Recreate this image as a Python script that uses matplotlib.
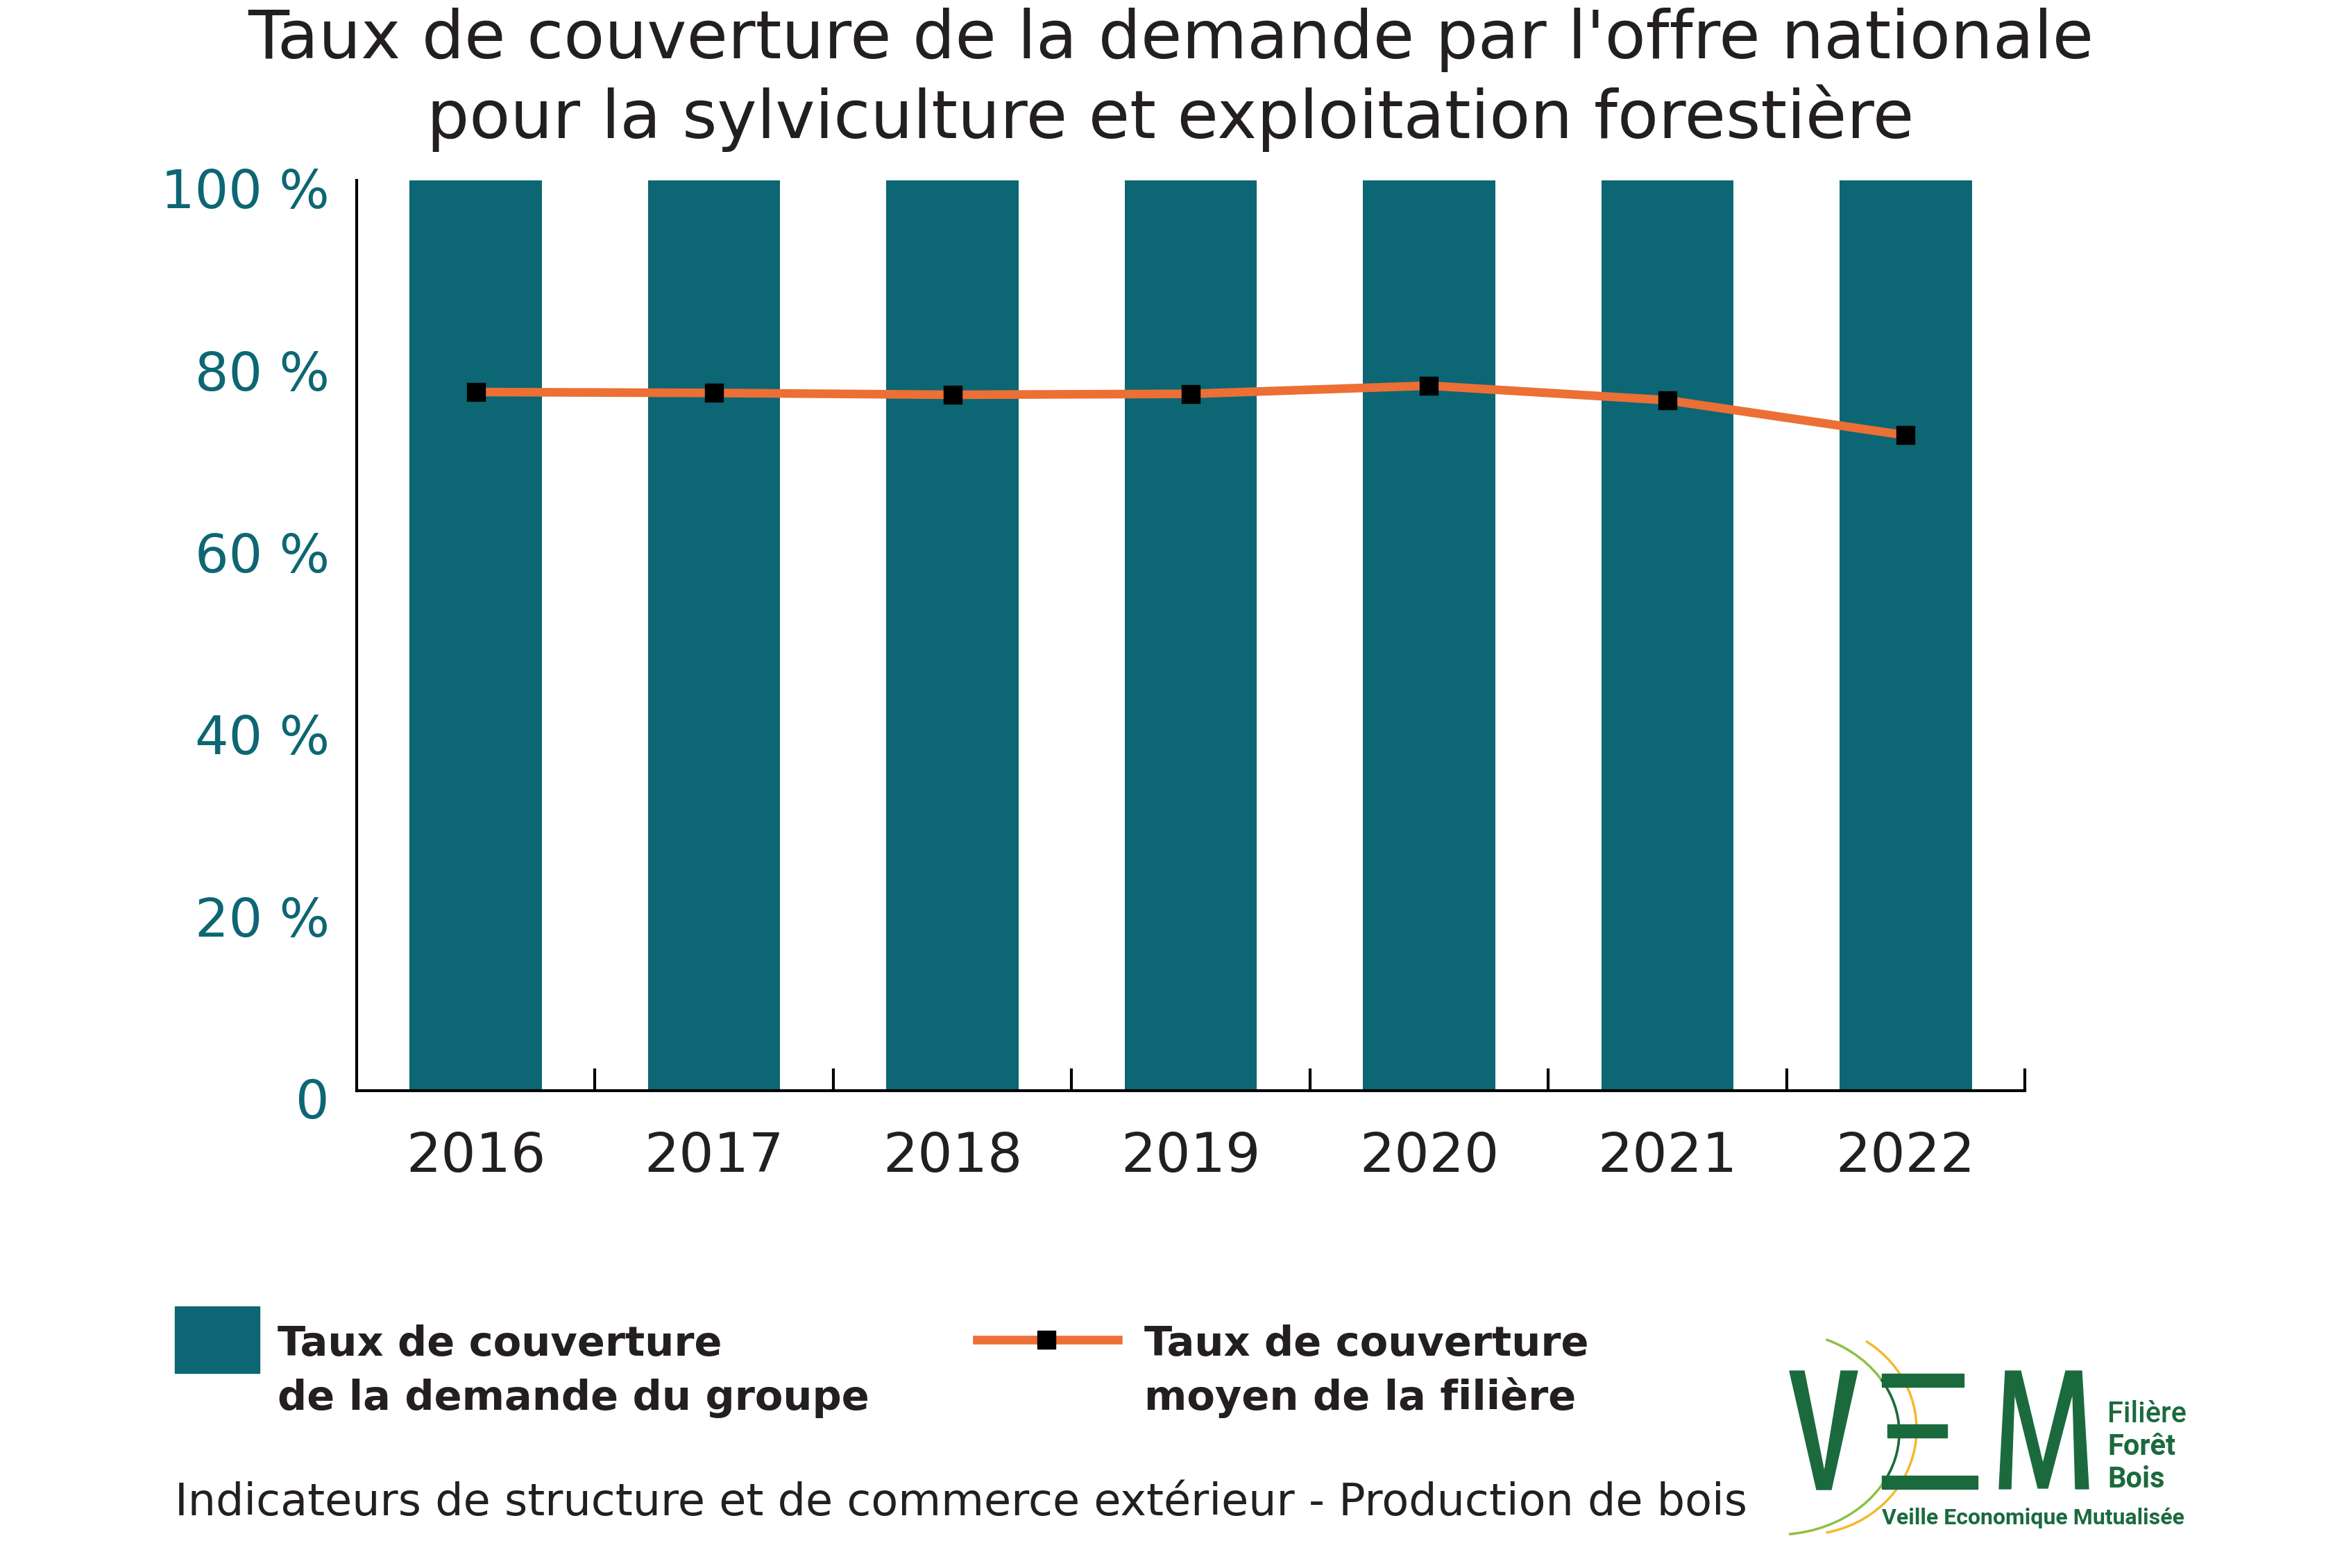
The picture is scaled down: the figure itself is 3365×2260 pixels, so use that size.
import numpy as np
import matplotlib
matplotlib.use('Agg')
from matplotlib import pyplot as plt
from matplotlib import transforms
from matplotlib.patches import Rectangle, Polygon, Arc
from matplotlib.lines import Line2D

years = ['2016', '2017', '2018', '2019', '2020', '2021', '2022']
groupe = [100, 100, 100, 100, 100, 100, 100]
filiere = [76.75, 76.65, 76.45, 76.55, 77.45, 75.85, 72.0]
yticks = [0, 20, 40, 60, 80, 100]
ylabels = ['0', '20 %', '40 %', '60 %', '80 %', '100 %']

teal = '#0D6673'
orange = '#EC6F35'
dark = '#231F20'
vem_green = '#1B6A3E'

W, H = 3365, 2260
plt.rcParams['font.family'] = ['DejaVu Sans']

fig = plt.figure(figsize=(W / 100, H / 100), dpi=100)
ax = fig.add_axes([514 / W, 1 - 1572 / H, (2918 - 514) / W, (1572 - 260) / H])

x = np.arange(len(years))
ax.bar(x, groupe, width=0.555, color=teal, zorder=2)
ax.plot(x, filiere, color=orange, lw=9, marker='s', ms=19,
        mfc='black', mec='black', zorder=3, clip_on=False)

ax.set_xlim(-0.5, len(years) - 0.5)
ax.set_ylim(0, 100)
ax.set_xticks(x)
ax.set_xticklabels(years, fontsize=57, color=dark)
ax.set_xticks(np.arange(0.5, len(years), 1), minor=True)
ax.tick_params(axis='x', which='major', length=0, pad=41)
ax.tick_params(axis='x', which='minor', direction='in', length=23, width=3, color='black')
ax.set_yticks(yticks)
ax.set_yticklabels(ylabels, fontsize=55, color=teal)
ax.tick_params(axis='y', length=0, pad=28)
# labels sit a little below their value in the original
shift = transforms.ScaledTranslation(0, -8 / 72, fig.dpi_scale_trans)
for lab in ax.get_yticklabels():
    lab.set_transform(lab.get_transform() + shift)
for s in ['top', 'right']:
    ax.spines[s].set_visible(False)
for s in ['left', 'bottom']:
    ax.spines[s].set_linewidth(3)
    ax.spines[s].set_color('black')
    ax.spines[s].set_zorder(4)

# overlay in pixel coordinates for title, legend, source and logo
lay = fig.add_axes([0, 0, 1, 1], facecolor='none')
lay.set_xlim(0, W)
lay.set_ylim(H, 0)
lay.axis('off')

lay.text(1687, 84, "Taux de couverture de la demande par l'offre nationale",
         ha='center', va='baseline', fontsize=69.5, color=dark)
lay.text(1687, 199, "pour la sylviculture et exploitation forestière",
         ha='center', va='baseline', fontsize=69.5, color=dark)

# legend
lay.add_patch(Rectangle((252, 1883), 122, 96, color=teal))
lay.text(400, 1954, 'Taux de couverture', fontsize=42.5, fontweight='bold', color=dark, va='baseline')
lay.text(400, 2032, 'de la demande du groupe', fontsize=42.5, fontweight='bold', color=dark, va='baseline')
lay.add_line(Line2D([1408, 1611], [1931, 1931], color=orange, lw=9))
lay.add_line(Line2D([1508], [1931], marker='s', ms=19, mfc='black', mec='black', ls='none'))
lay.text(1649, 1954, 'Taux de couverture', fontsize=42.5, fontweight='bold', color=dark, va='baseline')
lay.text(1649, 2032, 'moyen de la filière', fontsize=42.5, fontweight='bold', color=dark, va='baseline')

lay.text(252, 2184, 'Indicateurs de structure et de commerce extérieur - Production de bois',
         fontsize=45.8, color=dark, va='baseline')

# logo VEM
lay.add_patch(Arc((2560, 2065), 354, 294, theta1=-62, theta2=83, color='#8DC043', lw=2.5))
lay.add_patch(Arc((2560, 2065), 354, 294, theta1=-27, theta2=26, color=vem_green, lw=2.5))
lay.add_patch(Arc((2600, 2060), 324, 304, theta1=-55, theta2=78, color='#F4B82E', lw=2.5))
lay.add_patch(Polygon([(2579, 1976), (2600, 1976), (2629, 2122), (2653, 1976), (2677, 1976),
                       (2639, 2147), (2618, 2147)], closed=True, color=vem_green))
lay.add_patch(Rectangle((2712, 1980), 118, 19, color=vem_green))
lay.add_patch(Rectangle((2720, 2053), 86, 19, color=vem_green))
lay.add_patch(Rectangle((2712, 2127), 138, 19, color=vem_green))
lay.add_patch(Polygon([(2881, 2146), (2890, 1976), (2912, 1976), (2944, 2110), (2977, 1976),
                       (3000, 1976), (3010, 2146), (2991, 2146), (2987, 2007), (2951, 2145),
                       (2937, 2145), (2903, 2007), (2898, 2146)], closed=True, color=vem_green))
lay.text(3037, 2050, 'Filière', fontsize=30, family='Roboto', fontweight='medium', color=vem_green, va='baseline')
lay.text(3037, 2097, 'Forêt', fontsize=30, family='Roboto', fontweight='bold', color=vem_green, va='baseline')
lay.text(3037, 2144, 'Bois', fontsize=30, family='Roboto', fontweight='bold', color=vem_green, va='baseline')
lay.text(2712, 2197, 'Veille Economique Mutualisée', fontsize=23, family='Roboto',
         fontweight='bold', color=vem_green, va='baseline')

fig.savefig('out.png', dpi=100)
